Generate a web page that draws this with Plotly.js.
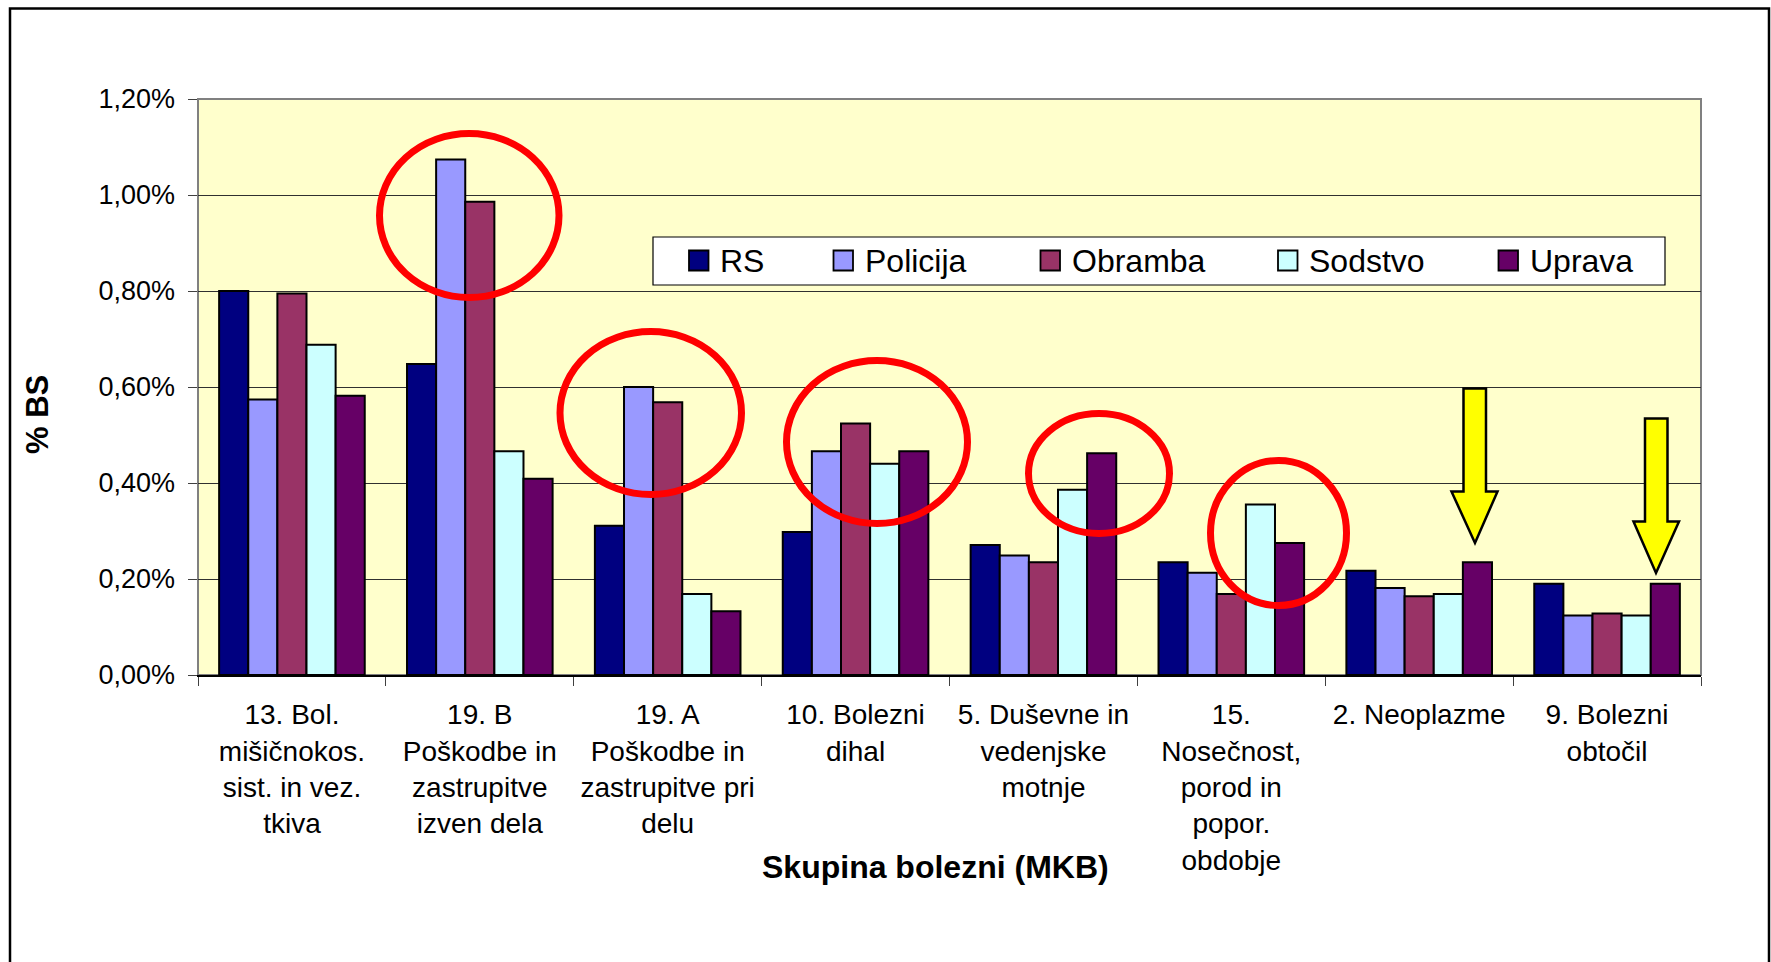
<!DOCTYPE html>
<html>
<head>
<meta charset="utf-8">
<script src="https://cdn.plot.ly/plotly-3.0.1.min.js"></script>
<style>html,body{margin:0;padding:0;background:#fff;}#chart{width:1771px;height:962px;}</style>
</head>
<body>
<div id="chart"></div>
<script>
// ---- data ----
const categories = [
  "13. Bol.<br>mišičnokos.<br>sist. in vez.<br>tkiva",
  "19. B<br>Poškodbe in<br>zastrupitve<br>izven dela",
  "19. A<br>Poškodbe in<br>zastrupitve pri<br>delu",
  "10. Bolezni<br>dihal",
  "5. Duševne in<br>vedenjske<br>motnje",
  "15.<br>Nosečnost,<br>porod in<br>popor.<br>obdobje",
  "2. Neoplazme",
  "9. Bolezni<br>obtočil"
];
const seriesNames = ["RS", "Policija", "Obramba", "Sodstvo", "Uprava"];
const rs       = [0.800, 0.648, 0.311, 0.298, 0.271, 0.235, 0.217, 0.190];
const policija = [0.574, 1.074, 0.600, 0.466, 0.249, 0.213, 0.181, 0.124];
const obramba  = [0.795, 0.986, 0.568, 0.524, 0.235, 0.169, 0.164, 0.128];
const sodstvo  = [0.688, 0.466, 0.169, 0.440, 0.386, 0.355, 0.169, 0.124];
const uprava   = [0.582, 0.409, 0.133, 0.466, 0.462, 0.275, 0.235, 0.190];
const yTitle = "% BS";
const xTitle = "Skupina bolezni (MKB)";

// ---- styles ----
const seriesValues = [rs, policija, obramba, sodstvo, uprava];
const colors = ["#000080", "#9999FF", "#993366", "#CCFFFF", "#660066"];
const FONT = "Liberation Sans, Arial, Helvetica, sans-serif";

const W = 1771, H = 962;
const ML = 198, MR = 70, MT = 99, MB = 287;
const PL = ML, PR = W - MR, PT = MT, PB = H - MB;
const px = x => (x - PL) / (PR - PL);
const py = y => (PB - y) / (PB - PT);

const traces = seriesNames.map((name, i) => ({
  type: "bar",
  name: name,
  x: categories,
  y: seriesValues[i],
  marker: { color: colors[i], line: { color: "#000", width: 2 } },
  showlegend: false,
  hoverinfo: "x+y+name"
}));

const shapes = [];
const annotations = [];

// outer frame
shapes.push({ type: "rect", xref: "paper", yref: "paper", layer: "above",
  x0: px(10), x1: px(1769), y0: py(1010), y1: py(8.5),
  line: { color: "#000", width: 2.5 }, fillcolor: "rgba(0,0,0,0)" });

// plot area border (grey)
shapes.push({ type: "rect", xref: "paper", yref: "paper", layer: "below",
  x0: 0, x1: 1, y0: 0, y1: 1, line: { color: "#808080", width: 2 }, fillcolor: "rgba(0,0,0,0)" });

// red ellipses (pixel boxes of the stroke centre line)
const ellipses = [
  [379.5, 133.5, 559, 297.5],
  [560, 331.5, 741.5, 494.5],
  [786.5, 360.5, 967.5, 523.5],
  [1028.5, 413.5, 1169.5, 533.5],
  [1210.5, 460.5, 1346.5, 605.5]
];
ellipses.forEach(e => shapes.push({ type: "circle", xref: "paper", yref: "paper", layer: "above",
  x0: px(e[0]), x1: px(e[2]), y0: py(e[3]), y1: py(e[1]),
  line: { color: "#FF0000", width: 7 }, fillcolor: "rgba(0,0,0,0)" }));

// yellow arrows: [shaftL, shaftR, top, headBase, headL, headR, tipX, tipY]
const arrows = [
  [1463.5, 1486, 388.5, 491.5, 1451.5, 1497.5, 1475, 543],
  [1645, 1667.5, 418.5, 521.5, 1633.5, 1679, 1656, 573]
];
arrows.forEach(a => {
  const pts = [[a[0], a[2]], [a[1], a[2]], [a[1], a[3]], [a[5], a[3]], [a[6], a[7]], [a[4], a[3]], [a[0], a[3]]];
  const d = "M" + pts.map(p => px(p[0]).toFixed(5) + "," + py(p[1]).toFixed(5)).join("L") + "Z";
  shapes.push({ type: "path", xref: "paper", yref: "paper", layer: "above", path: d,
    fillcolor: "#FFFF00", line: { color: "#000", width: 2.5 } });
});

// legend (drawn manually to match key size and spacing)
shapes.push({ type: "rect", xref: "paper", yref: "paper", layer: "above",
  x0: px(653), x1: px(1665), y0: py(285), y1: py(237),
  fillcolor: "#FFFFFF", line: { color: "#000", width: 1.2 } });
const legendKeyX = [689, 833.5, 1040.5, 1278, 1498.5];
seriesNames.forEach((name, i) => {
  const kx = legendKeyX[i];
  shapes.push({ type: "rect", xref: "paper", yref: "paper", layer: "above",
    x0: px(kx), x1: px(kx + 19.5), y0: py(270.5), y1: py(250.5),
    fillcolor: colors[i], line: { color: "#000", width: 1.8 } });
  annotations.push({ xref: "paper", yref: "paper", x: px(kx + 29), y: py(260.5),
    xanchor: "left", yanchor: "middle", showarrow: false, text: name,
    font: { family: FONT, size: 32, color: "#000" } });
});

// axis titles
annotations.push({ xref: "paper", yref: "paper", x: px(935), y: py(867), xanchor: "center", yanchor: "middle",
  showarrow: false, text: "<b>" + xTitle + "</b>", font: { family: FONT, size: 32, color: "#000" } });
annotations.push({ xref: "paper", yref: "paper", x: px(37), y: py(415), xanchor: "center", yanchor: "middle",
  showarrow: false, textangle: -90, text: "<b>" + yTitle + "</b>", font: { family: FONT, size: 31, color: "#000" } });

const layout = {
  width: W, height: H,
  margin: { l: ML, r: MR, t: MT, b: MB, pad: 0 },
  paper_bgcolor: "#FFFFFF",
  plot_bgcolor: "#FFFFCC",
  separators: ",.",
  barmode: "group",
  bargap: 0.225,
  bargroupgap: 0,
  font: { family: FONT, color: "#000" },
  xaxis: {
    type: "category",
    tickson: "boundaries",
    ticks: "outside", ticklen: 9, tickwidth: 1, tickcolor: "#404040",
    showline: true, linecolor: "#000", linewidth: 1.5,
    showgrid: false,
    tickfont: { family: FONT, size: 28, color: "#000" },
    ticklabelstandoff: 14,
    tickangle: 0,
    automargin: false
  },
  yaxis: {
    range: [0, 1.2],
    dtick: 0.2, tick0: 0,
    tickformat: ".2f", ticksuffix: "%",
    ticks: "outside", ticklen: 9, tickwidth: 1, tickcolor: "#404040",
    showline: true, linecolor: "#808080", linewidth: 1.5,
    showgrid: true, gridcolor: "#303030", gridwidth: 1,
    zeroline: false,
    tickfont: { family: FONT, size: 27, color: "#000" },
    ticklabelstandoff: 7,
    automargin: false
  },
  shapes: shapes,
  annotations: annotations
};

Plotly.newPlot("chart", traces, layout, { displayModeBar: false, staticPlot: true });
</script>
</body>
</html>
